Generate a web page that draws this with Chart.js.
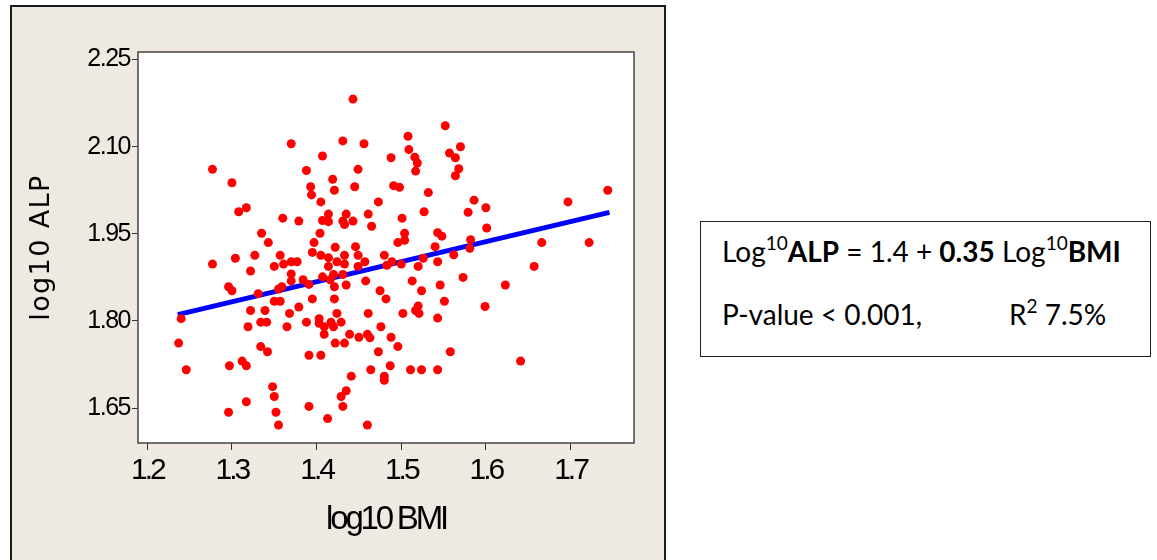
<!DOCTYPE html>
<html>
<head>
<meta charset="utf-8">
<script src="https://cdn.jsdelivr.net/npm/chart.js@4/dist/chart.umd.min.js"></script>
<style>
  html, body { margin: 0; padding: 0; background: #fff; }
  #wrap { position: relative; width: 1157px; height: 560px; }
  canvas { position: absolute; left: 0; top: 0; }
  #note {
    position: absolute; left: 700px; top: 221px; width: 449px; height: 134px;
    border: 1.5px solid #222; background: #fff;
  }
  .line { position: absolute; font-family: Lato, 'Open Sans', sans-serif; font-size: 28px;
          line-height: 34px; white-space: nowrap; color: #000; }
  .line sup { font-size: 19px; vertical-align: 12px; line-height: 0; }
  .line b { font-weight: 700; }
</style>
</head>
<body>
<div id="wrap">
  <canvas id="scatterChart" width="1157" height="560"></canvas>
  <div id="note">
    <div class="line" style="left:21px; top:12px;">Log<sup>10</sup><b>ALP</b> = 1.4 + <b>0.35</b> Log<sup>10</sup><b>BMI</b></div>
    <div class="line" style="left:21px; top:75px;">P-value &lt; 0.001,</div>
    <div class="line" style="left:308px; top:75px;">R<sup>2</sup> 7.5%</div>
  </div>
</div>
<script>
// log10 BMI (x) and log10 ALP (y) for each subject
var bmi = [
    1.443, 1.370, 1.431, 1.456, 1.488, 1.277, 1.407, 1.388, 1.449, 1.300,
    1.419, 1.393, 1.421, 1.445, 1.394, 1.405, 1.473, 1.317, 1.308, 1.360,
    1.379, 1.414, 1.407, 1.414, 1.435, 1.431, 1.433, 1.443, 1.461, 1.465,
    1.335, 1.404, 1.343, 1.397, 1.395, 1.422, 1.446, 1.277, 1.304, 1.327,
    1.357, 1.350, 1.361, 1.370, 1.377, 1.405, 1.414, 1.414, 1.433, 1.424,
    1.433, 1.449, 1.449, 1.457, 1.480, 1.483, 1.322, 1.370, 1.370, 1.384,
    1.391, 1.407, 1.420, 1.416, 1.431, 1.359, 1.355, 1.296, 1.300, 1.331,
    1.421, 1.435, 1.458, 1.475, 1.482, 1.350, 1.357, 1.395, 1.421, 1.379,
    1.322, 1.339, 1.368, 1.424, 1.461, 1.240, 1.334, 1.341, 1.388, 1.403,
    1.403, 1.417, 1.429, 1.319, 1.365, 1.409, 1.420, 1.476, 1.409, 1.439,
    1.450, 1.460, 1.463, 1.488, 1.237, 1.422, 1.433, 1.334, 1.342, 1.473,
    1.391, 1.405, 1.246, 1.297, 1.312, 1.317, 1.441, 1.464, 1.480, 1.480,
    1.487, 1.348, 1.350, 1.435, 1.429, 1.431, 1.317, 1.296, 1.352, 1.391,
    1.413, 1.355, 1.460,
    1.552, 1.508, 1.509, 1.570, 1.516, 1.519, 1.517, 1.557, 1.564, 1.568,
    1.564, 1.491, 1.498, 1.532, 1.744, 1.697, 1.586, 1.600, 1.579, 1.527,
    1.501, 1.601, 1.543, 1.548, 1.504, 1.496, 1.582, 1.666, 1.722, 1.657,
    1.623, 1.599, 1.573, 1.581, 1.562, 1.543, 1.540, 1.526, 1.520, 1.500,
    1.504, 1.489, 1.513, 1.546, 1.524, 1.551, 1.520, 1.517, 1.521, 1.502,
    1.543, 1.496, 1.558, 1.641, 1.511, 1.524, 1.543
];
var alp = [
    2.182, 2.105, 2.110, 2.105, 2.081, 2.061, 2.084, 2.059, 2.061, 2.038,
    2.044, 2.031, 2.025, 2.031, 2.017, 2.005, 2.005, 1.995, 1.988, 1.977,
    1.972, 1.984, 1.973, 1.971, 1.984, 1.972, 1.966, 1.972, 1.984, 1.963,
    1.951, 1.951, 1.935, 1.935, 1.918, 1.927, 1.928, 1.898, 1.908, 1.913,
    1.913, 1.894, 1.898, 1.902, 1.902, 1.913, 1.909, 1.894, 1.913, 1.902,
    1.898, 1.913, 1.894, 1.902, 1.913, 1.896, 1.886, 1.881, 1.869, 1.871,
    1.863, 1.876, 1.880, 1.871, 1.880, 1.859, 1.855, 1.859, 1.852, 1.847,
    1.859, 1.862, 1.869, 1.852, 1.838, 1.834, 1.834, 1.838, 1.838, 1.824,
    1.818, 1.818, 1.813, 1.813, 1.813, 1.804, 1.798, 1.798, 1.798, 1.804,
    1.796, 1.798, 1.798, 1.790, 1.790, 1.790, 1.790, 1.790, 1.777, 1.777,
    1.772, 1.777, 1.771, 1.772, 1.762, 1.762, 1.762, 1.756, 1.747, 1.747,
    1.741, 1.741, 1.716, 1.723, 1.731, 1.723, 1.705, 1.716, 1.705, 1.698,
    1.723, 1.687, 1.670, 1.680, 1.670, 1.653, 1.661, 1.643, 1.643, 1.653,
    1.632, 1.621, 1.621,
    2.136, 2.118, 2.095, 2.100, 2.082, 2.072, 2.058, 2.089, 2.081, 2.062,
    2.050, 2.033, 2.030, 2.021, 2.025, 2.005, 2.008, 1.995, 1.987, 1.988,
    1.977, 1.960, 1.952, 1.946, 1.951, 1.935, 1.940, 1.935, 1.935, 1.894,
    1.862, 1.825, 1.875, 1.925, 1.914, 1.902, 1.928, 1.908, 1.894, 1.898,
    1.939, 1.902, 1.869, 1.862, 1.852, 1.834, 1.826, 1.818, 1.813, 1.813,
    1.805, 1.756, 1.747, 1.731, 1.716, 1.716, 1.716
];

// fitted line as drawn, end to end
var fitX = [1.236, 1.746];
var fitY = [1.811, 1.987];

var xTicks = [1.2, 1.3, 1.4, 1.5, 1.6, 1.7];
var yTicks = [1.65, 1.80, 1.95, 2.10, 2.25];

var points = bmi.map(function (b, i) { return { x: b, y: alp[i] }; });
var fitLine = fitX.map(function (b, i) { return { x: b, y: fitY[i] }; });

// Minitab draws its axis text tightly spaced; canvas letterSpacing per axis
var spacing = {
    x: { labels: '-3px', title: '-3.2px' },
    y: { labels: '-1.5px', title: '1.4px' }
};
var baseLabels = Chart.LinearScale.prototype.drawLabels;
var baseTitle = Chart.LinearScale.prototype.drawTitle;
Chart.LinearScale.prototype.drawLabels = function (area) {
    this.ctx.save();
    this.ctx.letterSpacing = spacing[this.id].labels;
    baseLabels.call(this, area);
    this.ctx.restore();
};
Chart.LinearScale.prototype.drawTitle = function () {
    this.ctx.save();
    this.ctx.letterSpacing = spacing[this.id].title;
    baseTitle.call(this);
    this.ctx.restore();
};

var panel = {
    id: 'panel',
    beforeDraw: function (chart) {
        var ctx = chart.ctx, a = chart.chartArea;
        ctx.save();
        ctx.fillStyle = '#ffffff';
        ctx.fillRect(0, 0, chart.width, chart.height);
        ctx.fillStyle = '#eeeae1';
        ctx.fillRect(10, 5, 656, 560);
        ctx.strokeStyle = '#1a1a1a';
        ctx.lineWidth = 2;
        ctx.strokeRect(11, 6, 654, 560);
        ctx.fillStyle = '#ffffff';
        ctx.fillRect(a.left, a.top, a.right - a.left, a.bottom - a.top);
        ctx.restore();
    },
    afterDraw: function (chart) {
        var ctx = chart.ctx, a = chart.chartArea;
        ctx.save();
        ctx.strokeStyle = '#444';
        ctx.lineWidth = 1.5;
        ctx.strokeRect(a.left, a.top, a.right - a.left, a.bottom - a.top);
        ctx.restore();
    }
};

var ctx = document.getElementById('scatterChart').getContext('2d');
var scatterChart = new Chart(ctx, {
    type: 'scatter',
    data: {
        datasets: [{
            label: 'log10 ALP',
            data: points,
            backgroundColor: '#ff0000',
            borderWidth: 0,
            pointRadius: 4.5,
            pointHoverRadius: 4.5
        },
        {
            label: 'Fit',
            data: fitLine,
            showLine: true,
            borderColor: '#0000ff',
            borderWidth: 5,
            pointRadius: 0,
            fill: false
        }]
    },
    options: {
        responsive: false,
        animation: false,
        layout: { padding: { left: 0, top: 52, right: 523, bottom: 0 } },
        plugins: {
            legend: { display: false },
            tooltip: { enabled: false }
        },
        scales: {
            x: {
                type: 'linear',
                min: 1.189,
                max: 1.775,
                afterBuildTicks: function (scale) {
                    scale.ticks = xTicks.map(function (v) { return { value: v }; });
                },
                afterFit: function (scale) { scale.height = 117; },
                grid: { drawOnChartArea: false, drawTicks: true, tickLength: 7, color: '#333', lineWidth: 1 },
                border: { display: false },
                ticks: {
                    padding: 3,
                    color: '#000',
                    font: { family: "'Liberation Sans', sans-serif", size: 30 },
                    callback: function (v) { return v.toFixed(1); }
                },
                title: {
                    display: true,
                    text: 'log10 BMI',
                    color: '#000',
                    padding: { top: 0, bottom: 20 },
                    font: { family: "'Liberation Sans', sans-serif", size: 33 }
                }
            },
            y: {
                type: 'linear',
                min: 1.590,
                max: 2.263,
                afterBuildTicks: function (scale) {
                    scale.ticks = yTicks.map(function (v) { return { value: v }; });
                },
                afterFit: function (scale) { scale.width = 138; },
                grid: { drawOnChartArea: false, drawTicks: true, tickLength: 6, color: '#333', lineWidth: 1 },
                border: { display: false },
                ticks: {
                    padding: 2,
                    color: '#000',
                    font: { family: "'Liberation Sans', sans-serif", size: 25 },
                    callback: function (v) { return v.toFixed(2); }
                },
                title: {
                    display: true,
                    text: 'log10 ALP',
                    color: '#000',
                    padding: { top: 26, bottom: 0 },
                    font: { family: "'DejaVu Sans', sans-serif", size: 27 }
                }
            }
        }
    },
    plugins: [panel]
});
</script>
</body>
</html>
